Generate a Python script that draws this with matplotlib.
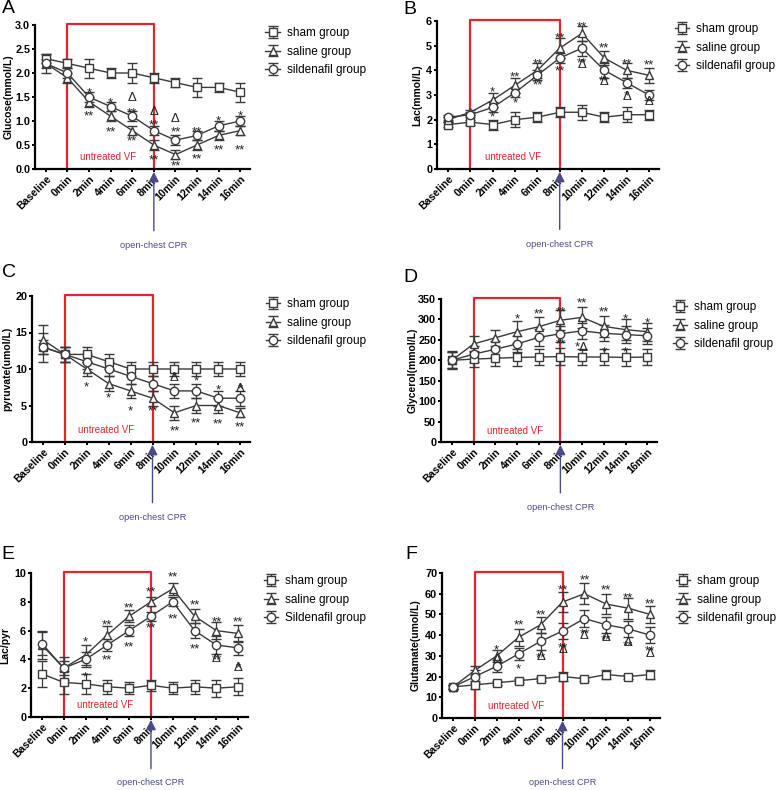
import matplotlib
matplotlib.use("Agg")
import matplotlib.pyplot as plt
import numpy as np

plt.rcParams['font.family'] = ['Liberation Sans', 'DejaVu Sans']

timepoints = ['Baseline', '0min', '2min', '4min', '6min', '8min',
              '10min', '12min', '14min', '16min']

# A: glucose
glu_sham = [2.3, 2.2, 2.1, 2.0, 2.0, 1.9, 1.8, 1.7, 1.7, 1.6]
glu_sham_err = [0.1, 0.1, 0.2, 0.1, 0.2, 0.1, 0.1, 0.2, 0.1, 0.2]
glu_saline = [2.2, 1.9, 1.4, 1.1, 0.8, 0.5, 0.3, 0.5, 0.7, 0.8]
glu_saline_err = [0.2, 0.1, 0.1, 0.1, 0.1, 0.1, 0.1, 0.1, 0.1, 0.1]
glu_sild = [2.2, 2.0, 1.5, 1.3, 1.1, 0.8, 0.6, 0.7, 0.9, 1.0]
glu_sild_err = [0.1, 0.1, 0.1, 0.1, 0.1, 0.1, 0.1, 0.1, 0.1, 0.1]
glu_marks = [(2, 1.68, '*'), (2, 1.2, '**'), (3, 1.47, '*'), (3, 0.86, '**'),
             (4, 1.48, 'Δ'), (4, 1.26, '**'), (4, 0.67, '**'),
             (5, 1.19, 'Δ'), (5, 1.0, '**'), (5, 0.27, '**'),
             (6, 1.05, 'Δ'), (6, 0.86, '**'), (6, 0.15, '**'),
             (7, 0.86, '**'), (7, 0.31, '**'),
             (8, 1.1, '*'), (8, 0.48, '**'),
             (9, 1.19, '*'), (9, 0.48, '**')]

# B: lactate
lac_sham = [1.8, 1.9, 1.8, 2.0, 2.1, 2.3, 2.3, 2.1, 2.2, 2.2]
lac_sham_err = [0.1, 0.1, 0.2, 0.3, 0.2, 0.2, 0.3, 0.2, 0.3, 0.2]
lac_saline = [2.0, 2.3, 2.8, 3.4, 4.0, 4.9, 5.5, 4.5, 4.0, 3.8]
lac_saline_err = [0.1, 0.1, 0.3, 0.3, 0.3, 0.4, 0.3, 0.3, 0.3, 0.3]
lac_sild = [2.1, 2.2, 2.5, 3.1, 3.8, 4.5, 4.9, 4.0, 3.5, 3.0]
lac_sild_err = [0.1, 0.1, 0.2, 0.2, 0.2, 0.2, 0.3, 0.3, 0.2, 0.2]
lac_marks = [(2, 3.3, '*'), (2, 2.27, '*'), (3, 3.9, '**'), (3, 2.87, '*'),
             (4, 4.45, '**'), (4, 3.58, '**'), (5, 5.5, '**'), (5, 4.14, '**'),
             (6, 5.93, '**'), (6, 4.48, '**'), (6, 4.2, 'Δ'),
             (7, 5.07, '**'), (7, 3.75, '**'), (7, 3.53, 'Δ'),
             (8, 4.42, '**'), (8, 3.13, '*'), (8, 2.93, 'Δ'),
             (9, 4.38, '**'), (9, 2.73, 'Δ')]

# C: pyruvate
pyr_sham = [13, 12, 12, 11, 10, 10, 10, 10, 10, 10]
pyr_sham_err = [2, 1, 1, 1, 1, 1, 1, 1, 1, 1]
pyr_saline = [14, 12, 10, 8, 7, 6, 4, 5, 5, 4]
pyr_saline_err = [2, 1, 1, 1, 1, 1, 1, 1, 1, 0.6]
pyr_sild = [13, 12, 11, 10, 9, 8, 7, 7, 6, 6]
pyr_sild_err = [1, 1, 1, 1, 1, 1, 1, 1, 1, 1]
pyr_marks = [(2, 8.1, '*'), (3, 6.7, '*'), (4, 4.8, '*'), (5, 4.8, '**'),
             (6, 8.7, 'Δ'), (6, 2.1, '**'), (7, 8.9, '*'), (7, 3.2, '**'),
             (8, 7.7, '*'), (8, 3.1, '**'), (9, 7.8, '*'), (9, 7.2, 'Δ'),
             (9, 2.6, '**')]

# D: glycerol
gly_sham = [200, 203, 205, 207, 208, 209, 208, 208, 207, 208]
gly_sham_err = [22, 20, 20, 20, 20, 20, 20, 20, 20, 20]
gly_saline = [200, 240, 255, 270, 282, 298, 305, 283, 275, 270]
gly_saline_err = [20, 20, 20, 27, 25, 25, 25, 25, 25, 22]
gly_sild = [200, 215, 227, 240, 256, 265, 272, 266, 263, 260]
gly_sild_err = [20, 20, 20, 20, 20, 20, 20, 20, 20, 20]
gly_marks = [(3, 311, '*'), (4, 323, '**'), (5, 330, '**'), (5, 250, '**'),
             (6, 350, '**'), (6, 242, '*Δ'), (7, 330, '**'), (7, 232, '*'),
             (8, 313, '*'), (8, 232, '*'), (9, 301, '*')]

# E: lactate / pyruvate ratio
lp_sham = [3.0, 2.4, 2.3, 2.1, 2.0, 2.2, 2.0, 2.1, 2.0, 2.1]
lp_sham_err = [0.9, 0.8, 0.7, 0.5, 0.4, 0.4, 0.4, 0.5, 0.6, 0.6]
lp_saline = [5.0, 3.4, 4.3, 5.7, 7.0, 8.0, 8.9, 7.0, 6.0, 5.8]
lp_saline_err = [1.0, 0.8, 0.7, 0.6, 0.4, 0.3, 0.4, 0.5, 0.6, 0.6]
lp_sild = [5.1, 3.4, 4.0, 5.0, 6.0, 7.0, 8.0, 6.0, 5.0, 4.8]
lp_sild_err = [0.8, 0.5, 0.5, 0.4, 0.4, 0.3, 0.3, 0.5, 0.6, 0.5]
lp_marks = [(2, 5.5, '*'), (2, 3.1, '*'), (3, 6.7, '**'), (3, 4.3, '**'),
            (4, 7.9, '**'), (4, 5.2, '**'), (5, 9.0, '**'), (5, 6.5, '**'),
            (6, 10.0, '**'), (6, 7.1, '**'), (7, 8.1, '**'), (7, 5.0, '**'),
            (8, 6.9, '**'), (8, 4.3, '**'), (8, 4.0, 'Δ'),
            (9, 6.9, '**'), (9, 3.7, '*'), (9, 3.4, 'Δ')]

# F: glutamate
glt_sham = [15, 16, 17, 18, 19, 20, 19, 21, 20, 21]
glt_sham_err = [1, 2, 1, 1, 1, 2, 1, 2, 1, 2]
glt_saline = [15, 23, 30, 39, 45, 56, 60, 55, 53, 50]
glt_saline_err = [1, 2, 3, 4, 4, 5, 5, 5, 5, 4]
glt_sild = [15, 20, 25, 31, 37, 42, 48, 45, 43, 40]
glt_sild_err = [1, 3, 3, 3, 4, 4, 4, 4, 4, 4]
glt_marks = [(2, 34.8, '*'), (2, 28, 'Δ'), (3, 47, '**'), (3, 26, '*'),
             (4, 52, '**'), (4, 31, '**'), (4, 29.5, 'Δ'),
             (5, 64, '**'), (5, 36, '**'), (5, 33, 'Δ'),
             (6, 68.6, '**'), (6, 42.5, '**'), (6, 39.6, 'Δ'),
             (7, 64, '**'), (7, 40, '**'), (7, 38.6, 'Δ'),
             (8, 60, '**'), (8, 37, '**'), (8, 36, 'Δ'),
             (9, 57, '**'), (9, 34.5, '**'), (9, 31, 'Δ')]

groups = ['sham group', 'saline group', 'sildenafil group']
groups_e = ['sham group', 'saline group', 'Sildenafil group']
markers = ['s', '^', 'o']

W, H = 779, 790


def px_rect(left, right, top, bottom):
    # axes rectangle from pixel edges
    return [left / W, 1 - bottom / H, (right - left) / W, (bottom - top) / H]


panels = [
    dict(letter='A', lpos=(2, 0), rect=px_rect(35, 250, 25, 169), ylabel='Glucose(mmol/L)',
         ycoord=-0.10, ymax=3.0, yticks=np.arange(0, 3.01, 0.5), fmt='{:.1f}', cpr=-0.528,
         series=[(glu_sham, glu_sham_err), (glu_saline, glu_saline_err), (glu_sild, glu_sild_err)],
         marks=glu_marks, names=groups),
    dict(letter='B', lpos=(403, 1), rect=px_rect(437, 659, 21, 169), ylabel='Lac(mmol/L)',
         ycoord=-0.068, ymax=6, yticks=np.arange(0, 7, 1), fmt='{:.0f}', cpr=-0.507,
         series=[(lac_sham, lac_sham_err), (lac_saline, lac_saline_err), (lac_sild, lac_sild_err)],
         marks=lac_marks, names=groups),
    dict(letter='C', lpos=(2, 264), rect=px_rect(32, 250, 296, 442), ylabel='pyruvate(umol/L)',
         ycoord=-0.092, ymax=20, yticks=np.arange(0, 21, 5), fmt='{:.0f}', cpr=-0.514,
         series=[(pyr_sham, pyr_sham_err), (pyr_saline, pyr_saline_err), (pyr_sild, pyr_sild_err)],
         marks=pyr_marks, names=groups),
    dict(letter='D', lpos=(403, 269), rect=px_rect(441, 657, 299, 442), ylabel='Glycerol(mmol/L)',
         ycoord=-0.11, ymax=350, yticks=np.arange(0, 351, 50), fmt='{:.0f}', cpr=-0.455,
         series=[(gly_sham, gly_sham_err), (gly_saline, gly_saline_err), (gly_sild, gly_sild_err)],
         marks=gly_marks, names=groups),
    dict(letter='E', lpos=(1, 546), rect=px_rect(31, 248, 573, 717), ylabel='Lac/pyr',
         ycoord=-0.097, ymax=10, yticks=np.arange(0, 11, 2), fmt='{:.0f}', cpr=-0.458,
         series=[(lp_sham, lp_sham_err), (lp_saline, lp_saline_err), (lp_sild, lp_sild_err)],
         marks=lp_marks, names=groups_e),
    dict(letter='F', lpos=(405, 546), rect=px_rect(442, 660, 573, 718), ylabel='Glutamate(umol/L)',
         ycoord=-0.10, ymax=70, yticks=np.arange(0, 71, 10), fmt='{:.0f}', cpr=-0.448,
         series=[(glt_sham, glt_sham_err), (glt_saline, glt_saline_err), (glt_sild, glt_sild_err)],
         marks=glt_marks, names=groups),
]

line_col = '#3a3a3a'
red = '#e3242b'
navy = '#4a4a88'

fig = plt.figure(figsize=(W / 100, H / 100), dpi=100)
x = np.arange(len(timepoints))

for p in panels:
    ax = fig.add_axes(p['rect'])
    for (vals, err), m, name in zip(p['series'], markers, p['names']):
        ax.errorbar(x, vals, yerr=err, color=line_col, lw=1.0, elinewidth=0.9,
                    capsize=3.5, capthick=0.9, marker=m, ms=6, mfc='white',
                    mec=line_col, mew=1.0, label=name, zorder=3)
    ymax = p['ymax']
    ax.set_xlim(-0.5, 9.45)
    ax.set_ylim(0, ymax)
    ax.set_xticks(x)
    ax.set_xticklabels(timepoints, rotation=45, ha='right', rotation_mode='anchor',
                       fontsize=7.6, fontweight='bold')
    ax.set_yticks(p['yticks'])
    ax.set_yticklabels([p['fmt'].format(v) for v in p['yticks']], fontsize=7.8,
                       fontweight='bold')
    ax.set_ylabel(p['ylabel'], fontsize=7.5, fontweight='bold')
    ax.yaxis.set_label_coords(p['ycoord'], 0.5)
    for s in ['top', 'right']:
        ax.spines[s].set_visible(False)
    for s in ['left', 'bottom']:
        ax.spines[s].set_linewidth(1.6)
    ax.tick_params(direction='out', length=2.5, width=1.4, pad=1)

    # untreated VF box
    top = ymax * 1.008
    ax.plot([1, 1, 5, 5], [0, top, top, 0], color=red, lw=1.6, clip_on=False, zorder=2)
    ax.text(2.9, 0.08, 'untreated VF', color=red, fontsize=7, ha='center',
            va='center', transform=ax.get_xaxis_transform())

    # CPR arrow
    ax.annotate('', xy=(5, 0), xycoords=('data', 'axes fraction'),
                xytext=(5, p['cpr'] + 0.08), textcoords=('data', 'axes fraction'),
                arrowprops=dict(arrowstyle='-|>,head_length=0.6,head_width=0.3',
                                color=navy, lw=1.0), annotation_clip=False)
    ax.text(5, p['cpr'], 'open-chest CPR', color=navy, fontsize=6.6, ha='center',
            va='center', transform=ax.get_xaxis_transform())

    for xi, yv, t in p['marks']:
        dy = -3.5 if t.startswith('*') else 0
        ax.annotate(t, (xi, yv), xytext=(0, dy), textcoords='offset points',
                    fontsize=9.5, ha='center', va='center', color='#222222',
                    zorder=4, annotation_clip=False)

    ax.legend(loc='upper left', bbox_to_anchor=(1.072, 0.985), frameon=False,
              fontsize=8.5, handlelength=1.2, labelspacing=0.55, borderaxespad=0,
              borderpad=0, handletextpad=0.6)

    lx, ly = p['lpos']
    fig.text(lx / W, 1 - ly / H, p['letter'], fontsize=14, ha='left', va='top')

fig.savefig('out.png', dpi=100)
